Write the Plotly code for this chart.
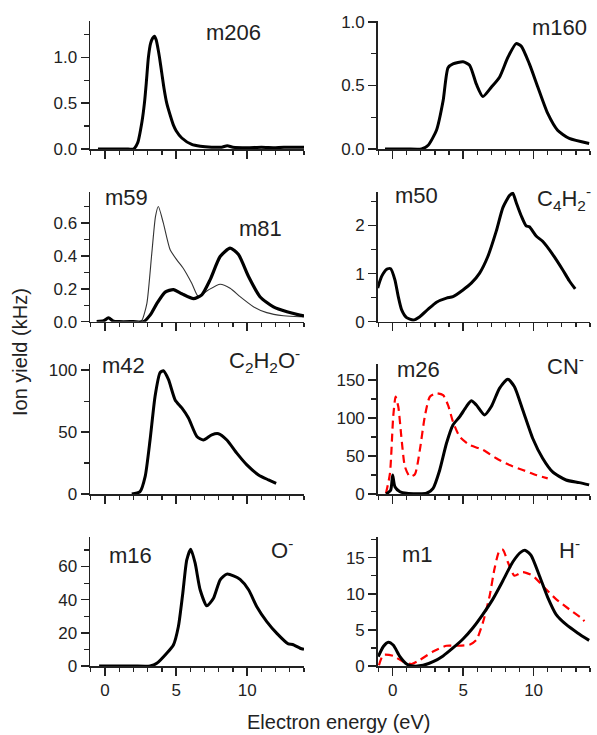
import plotly.graph_objects as go

W, H = 597, 735

# ---------------- data ----------------
m206_x = [-0.5, 0, 1, 1.5, 2.0, 2.3, 2.6, 2.77, 2.9, 3.05, 3.2, 3.35, 3.47, 3.6, 3.72, 3.83, 4.0, 4.15, 4.34, 4.6, 4.81, 5.0, 5.4, 6.1, 6.7, 7.5, 8.2, 8.6, 9.0, 10, 11, 12, 13, 14]
m206_y = [0, 0, 0, 0, 0.0, 0.07, 0.3, 0.5, 0.72, 1.0, 1.15, 1.21, 1.23, 1.19, 1.1, 1.0, 0.82, 0.66, 0.5, 0.36, 0.26, 0.2, 0.12, 0.05, 0.03, 0.02, 0.02, 0.035, 0.02, 0.015, 0.02, 0.015, 0.02, 0.02]

m160_x = [-0.54, 0, 1, 2.05, 2.52, 3.11, 3.58, 3.93, 4.28, 4.99, 5.46, 5.94, 6.4, 7.0, 7.58, 8.17, 8.76, 9.12, 9.7, 10.29, 11.0, 11.7, 12.53, 13.94]
m160_y = [0, 0, 0, 0, 0.03, 0.148, 0.38, 0.64, 0.67, 0.686, 0.66, 0.51, 0.413, 0.486, 0.565, 0.72, 0.83, 0.81, 0.67, 0.49, 0.28, 0.148, 0.083, 0.044]

m81_x = [-0.59, -0.1, 0.24, 0.6, 1.0, 2.0, 2.7, 3.17, 3.64, 4.23, 4.81, 5.4, 6.22, 6.81, 7.39, 8.1, 8.8, 9.39, 10.1, 10.9, 11.85, 12.8, 13.7, 14.0]
m81_y = [0, 0.005, 0.024, 0.003, 0, 0, 0, 0.04, 0.11, 0.18, 0.195, 0.17, 0.14, 0.163, 0.254, 0.396, 0.447, 0.408, 0.274, 0.152, 0.09, 0.06, 0.04, 0.035]

m59_x = [2.4, 2.6, 2.94, 3.29, 3.55, 3.75, 4.1, 4.58, 5.05, 5.5, 6.1, 6.57, 7.27, 8.1, 8.8, 9.5, 10.44, 11.38, 12.56, 13.7, 14.0]
m59_y = [0, 0.01, 0.11, 0.417, 0.64, 0.70, 0.60, 0.437, 0.376, 0.325, 0.234, 0.153, 0.193, 0.228, 0.203, 0.152, 0.091, 0.055, 0.036, 0.03, 0.03]

m50_x = [-1.06, -0.78, -0.42, -0.14, 0.16, 0.4, 0.64, 0.99, 1.46, 1.93, 2.52, 3.11, 3.82, 4.28, 4.99, 5.58, 6.17, 6.76, 7.35, 7.82, 8.29, 8.52, 8.76, 9.12, 9.47, 9.7, 10.18, 10.64, 11.35, 12.06, 12.53, 12.95]
m50_y = [0.70, 0.94, 1.09, 1.10, 0.87, 0.52, 0.245, 0.084, 0.035, 0.105, 0.26, 0.405, 0.49, 0.52, 0.66, 0.80, 1.01, 1.36, 1.88, 2.37, 2.62, 2.67, 2.48, 2.2, 1.99, 1.97, 1.78, 1.67, 1.40, 1.08, 0.85, 0.68]

m42_x = [1.88, 2.46, 2.82, 3.17, 3.52, 3.87, 4.1, 4.46, 4.93, 5.4, 5.87, 6.46, 6.92, 7.51, 7.98, 8.57, 9.27, 9.98, 10.8, 11.5, 12.04]
m42_y = [0, 1.9, 14, 44, 79, 98, 99.5, 92.5, 76, 69.5, 61.4, 46.5, 43.6, 47.8, 48.7, 43.6, 33, 23.5, 15.4, 11.4, 8.6]

m26_x = [-0.47, -0.14, 0.0, 0.16, 0.52, 0.99, 2.4, 2.87, 3.34, 3.82, 4.28, 4.76, 5.23, 5.58, 5.94, 6.52, 7.0, 7.58, 8.17, 8.64, 9.23, 9.94, 10.64, 11.35, 12.3, 13.24, 13.94]
m26_y = [0, 5, 25, 9.6, 3, 1, 1, 7.5, 31.6, 66.7, 90.8, 101.7, 115, 122.8, 117, 104, 115, 139, 151, 141, 110.5, 73, 47, 29, 18.4, 15, 12]

m26ref_x = [-0.47, -0.19, 0.04, 0.21, 0.4, 0.64, 0.87, 1.22, 1.58, 1.93, 2.28, 2.64, 3.11, 3.58, 3.93, 4.28, 4.76, 5.46, 6.4, 7.35, 8.29, 9.23, 10.18, 11.0]
m26ref_y = [1, 27, 101.7, 128, 115, 71, 36, 22.8, 26, 58, 101.7, 128, 132.5, 130, 117, 95, 75.4, 64.5, 58, 47, 38, 31.6, 25, 20.6]

m16_x = [-0.42, 0, 1, 2, 3.17, 3.64, 4.34, 4.81, 5.16, 5.47, 5.75, 6.03, 6.34, 6.69, 7.16, 7.63, 8.1, 8.57, 9.04, 9.5, 10.1, 10.68, 11.38, 12.09, 12.9, 13.2, 13.73, 14.0]
m16_y = [0, 0, 0, 0, 0, 1.6, 7.7, 12.7, 23.8, 43.9, 64, 70.5, 62, 46, 36.3, 40.9, 52, 55.4, 54.4, 52.2, 46, 35.8, 26.8, 19.7, 13.3, 13, 10.7, 10]

m1_x = [-1.02, -0.66, -0.31, 0.04, 0.52, 0.99, 1.46, 2.16, 2.87, 3.58, 4.28, 4.99, 5.7, 6.4, 7.11, 7.82, 8.52, 9.12, 9.42, 9.82, 10.41, 11.0, 11.59, 12.3, 13.12, 13.94]
m1_y = [1.3, 2.7, 3.3, 2.9, 1.3, 0.28, 0.0, 0.1, 0.6, 1.4, 2.5, 3.74, 5.3, 7.15, 9.26, 11.8, 14.4, 15.8, 16.0, 15.3, 12.5, 9.5, 7.15, 5.75, 4.58, 3.55]

m1ref_x = [-0.97, -0.66, 0.04, 0.75, 1.34, 1.93, 2.87, 3.82, 4.52, 5.46, 5.94, 6.4, 6.88, 7.23, 7.58, 7.82, 8.17, 8.64, 9.23, 9.94, 10.64, 11.59, 12.53, 13.47, 13.6]
m1ref_y = [0.1, 1.54, 1.4, 0.6, 0.28, 0.84, 2.0, 2.8, 2.8, 2.95, 3.6, 6.0, 9.7, 13.5, 16.0, 16.1, 14.4, 12.5, 13.0, 12.5, 11.1, 9.26, 7.85, 6.5, 6.2]

x_range = [-1.06, 14.0]
x_ticks = [0, 5, 10]
y_ranges = [[0, 1.40], [0, 1.01], [0, 0.79], [0, 2.7], [0, 105], [0, 171], [0, 78], [0, 17.9]]
y_dticks = [0.5, 0.5, 0.2, 1, 50, 50, 20, 5]
y_minor = [0.25, 0.25, 0.1, 0.5, 25, 25, 10, 2.5]
y_fmt = [".1f", ".1f", ".1f", "d", "d", "d", "d", "d"]

labels = ["m206", "m160", "m59", "m81", "m50", "C<sub>4</sub>H<sub>2</sub><sup>-</sup>",
          "m42", "C<sub>2</sub>H<sub>2</sub>O<sup>-</sup>", "m26", "CN<sup>-</sup>",
          "m16", "O<sup>-</sup>", "m1", "H<sup>-</sup>"]

# ---------------- layout geometry (pixels) ----------------
col_px = [(90, 304), (377.7, 590)]
row_px = [(20.7, 149), (191.7, 321.7), (364, 494), (536.7, 666)]

BLACK = "#000000"
RED = "#ff0000"
FONT = "Arial, Liberation Sans, sans-serif"
TXT = "#222222"

fig = go.Figure()

def ax(i):
    return ("x" if i == 0 else f"x{i+1}", "y" if i == 0 else f"y{i+1}")

def add(i, xs, ys, color=BLACK, width=3, dash=None):
    xa, ya = ax(i)
    line = dict(color=color, width=width, shape="spline", smoothing=0.6)
    if dash:
        line["dash"] = dash
    fig.add_trace(go.Scatter(x=xs, y=ys, mode="lines", line=line,
                             xaxis=xa, yaxis=ya, showlegend=False, hoverinfo="skip"))

add(0, m206_x, m206_y)
add(1, m160_x, m160_y)
add(2, m59_x, m59_y, color="#333333", width=1.1)
add(2, m81_x, m81_y, width=3.2)
add(3, m50_x, m50_y)
add(4, m42_x, m42_y)
add(5, m26ref_x, m26ref_y, color=RED, width=2.2, dash="8px,5px")
add(5, m26_x, m26_y)
add(6, m16_x, m16_y)
add(7, m1ref_x, m1ref_y, color=RED, width=2.2, dash="8px,5px")
add(7, m1_x, m1_y)

layout = dict(template="none", width=W, height=H, autosize=False,
              margin=dict(l=0, r=0, t=0, b=0, pad=0),
              paper_bgcolor="white", plot_bgcolor="white",
              font=dict(family=FONT, size=17, color=TXT))

for i in range(8):
    r, c = divmod(i, 2)
    xa, ya = ax(i)
    xd = [col_px[c][0] / W, col_px[c][1] / W]
    yd = [1 - row_px[r][1] / H, 1 - row_px[r][0] / H]
    xkey = "xaxis" if i == 0 else f"xaxis{i+1}"
    ykey = "yaxis" if i == 0 else f"yaxis{i+1}"
    layout[xkey] = dict(domain=xd, anchor=ya, range=x_range, tickmode="array",
                        tickvals=x_ticks, showticklabels=(r == 3), automargin=False,
                        ticks="outside", ticklen=8, tickwidth=1.5, tickcolor="#222",
                        showline=True, linecolor="#222", linewidth=1.5,
                        showgrid=False, zeroline=False,
                        minor=dict(dtick=1, tick0=0, ticks="outside", ticklen=4,
                                   tickwidth=1.2, tickcolor="#222", showgrid=False),
                        tickfont=dict(size=17, color=TXT))
    layout[ykey] = dict(domain=yd, anchor=xa, range=y_ranges[i], dtick=y_dticks[i], tick0=0,
                        tickformat=y_fmt[i], automargin=False,
                        ticks="outside", ticklen=8, tickwidth=1.5, tickcolor="#222",
                        showline=True, linecolor="#222", linewidth=1.5,
                        showgrid=False, zeroline=False,
                        minor=dict(dtick=y_minor[i], tick0=0, ticks="outside", ticklen=5,
                                   tickwidth=1.2, tickcolor="#222", showgrid=False),
                        tickfont=dict(size=17, color=TXT))

fig.update_layout(**layout)

# label placement in pixels (x, y, xanchor)
label_pos = [(233, 32, "center"), (559.5, 27.5, "center"), (126.5, 197.5, "center"),
             (260, 228.3, "center"), (416, 195, "center"), (535, 198, "left"),
             (123.5, 365, "center"), (227, 360, "left"), (418.5, 369, "center"),
             (545, 365, "left"), (130, 555, "center"), (269, 549, "left"),
             (417, 554, "center"), (557, 548.5, "left")]

for txt, (px, py, xa) in zip(labels, label_pos):
    fig.add_annotation(text=txt, x=px / W, y=1 - py / H, xref="paper", yref="paper",
                       xanchor=xa, yanchor="middle", showarrow=False,
                       font=dict(family=FONT, size=22, color=TXT))

fig.add_annotation(text="Ion yield (kHz)", x=20 / W, y=1 - 352 / H, xref="paper", yref="paper",
                   textangle=-90, xanchor="center", yanchor="middle", showarrow=False,
                   font=dict(family=FONT, size=20, color=TXT))
fig.add_annotation(text="Electron energy (eV)", x=338 / W, y=0.0, xref="paper", yref="paper",
                   xanchor="center", yanchor="bottom", showarrow=False,
                   font=dict(family=FONT, size=20, color=TXT))

fig.write_html("out.html", config={"displayModeBar": False, "staticPlot": True},
               post_script="document.body.style.margin='0';document.body.style.overflow='hidden';")
